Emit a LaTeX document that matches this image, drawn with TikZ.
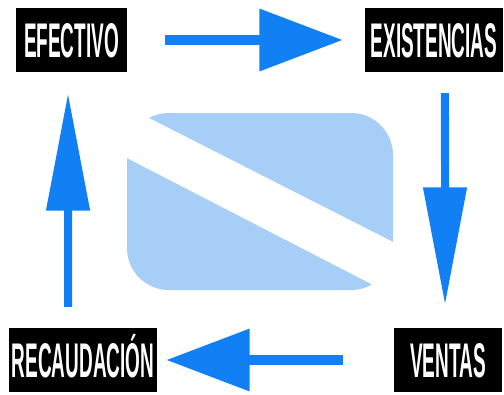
\documentclass[tikz,border=0pt]{standalone}
\usepackage{fontspec}
\setmainfont{Liberation Sans}
\usepackage{graphicx}
\usetikzlibrary{arrows.meta}
\definecolor{azul}{RGB}{18,128,245}
\definecolor{celeste}{RGB}{166,206,246}
\newcommand\rotulo[1]{\scalebox{0.39}[1]{#1}}

\begin{document}
\begin{tikzpicture}[
  x=0.025cm, y=-0.025cm,
  every node/.style = {fill=black, text=white, inner sep=0pt, minimum height=45.4pt, text height=24.8pt, text depth=0pt, font=\fontsize{34.6}{40}\selectfont\bfseries},
  gruesa/.style = {draw=azul, line width=7.8pt, -{Triangle[length=59.5pt, width=42.5pt]}},
  fina/.style = {draw=azul, line width=5.7pt, -{Triangle[length=83.6pt, width=29.8pt]}}
]
  \useasboundingbox (0,0) rectangle (504,394);

  \fill[celeste, rounded corners=29.8pt] (127,113) rectangle (393,290);
  \fill[white] (110,98.2) -- (410,250.6) -- (410,304) -- (110,149.3) -- cycle;

  \node[minimum width=78.7pt] (efectivo) at (71.5,40) {\rotulo{EFECTIVO}};
  \node[minimum width=97.8pt] (existencias) at (434,40) {\rotulo{EXISTENCIAS}};
  \node[minimum width=76.5pt] (ventas) at (448,360) {\rotulo{VENTAS}};
  \node[minimum width=104.9pt] (recaudacion) at (83,360) {\rotulo{RECAUDACIÓN}};

  \draw[gruesa, shorten <=26.9pt, shorten >=15.6pt] (efectivo) -- (existencias);
  \draw[fina, shorten <=14.9pt, shorten >=16.3pt] ([xshift=7.8pt]existencias.south) -- ([xshift=-2.1pt]ventas.north);
  \draw[gruesa, shorten <=36.1pt, shorten >=6.4pt] (ventas) -- (recaudacion);
  \draw[fina, shorten <=14.9pt, shorten >=14.9pt] ([xshift=-10.6pt]recaudacion.north) -- ([xshift=-2.5pt]efectivo.south);
\end{tikzpicture}
\end{document}
